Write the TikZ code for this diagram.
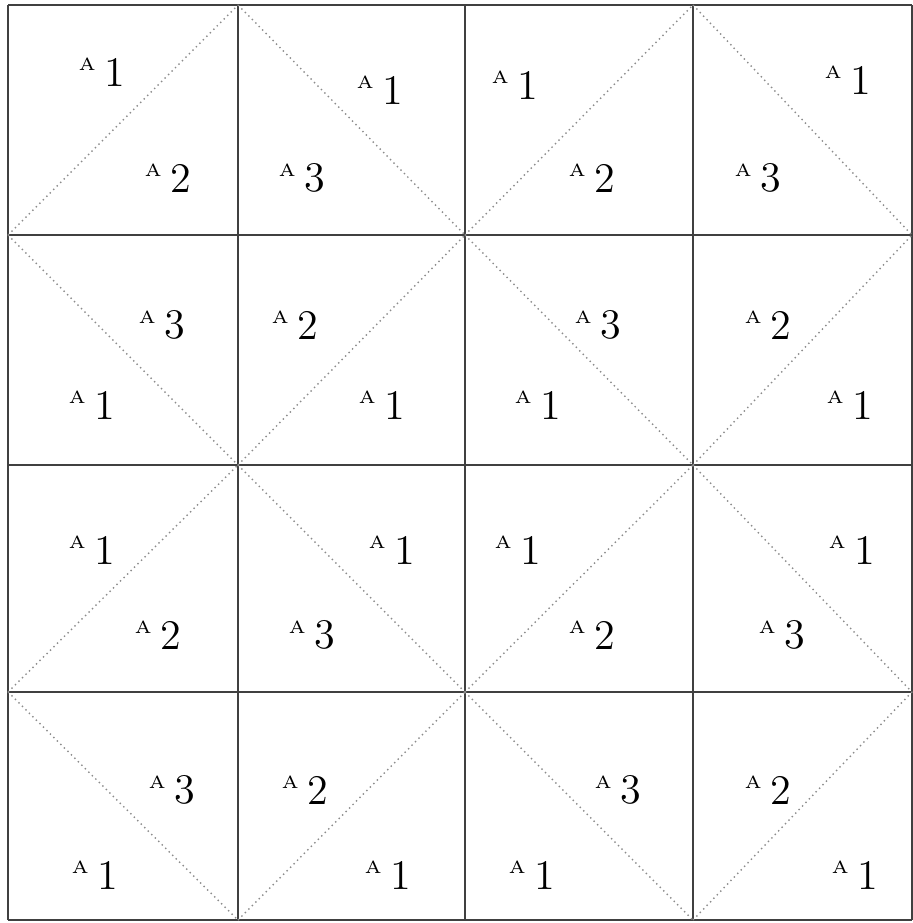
\documentclass[tikz,border=0pt]{standalone}
\usepackage{tikz}
\newcommand{\alab}[1]{\textsuperscript{\tiny A}\,#1}

\begin{document}
\begin{tikzpicture}[
    x=1cm, y=1cm,
    gridline/.style={draw=black!75, line width=0.5pt},
    diagline/.style={draw=black!45, line width=0.4pt, densely dotted},
    lab/.style={font=\large, inner sep=1pt},
  ]
    \useasboundingbox (0,0) rectangle (9.13,-9.23);

    % grid corners
    \foreach \i/\x in {0/0.08,1/2.38,2/4.65,3/6.93,4/9.12}
      \foreach \j/\y in {0/-0.05,1/-2.35,2/-4.65,3/-6.92,4/-9.20}
        \coordinate (p\i\j) at (\x,\y);

    % squares
    \foreach \i in {0,...,4}
      \draw[gridline] (p\i0) -- (p\i4);
    \foreach \j in {0,...,4}
      \draw[gridline] (p0\j) -- (p4\j);

    % diagonals
    \foreach \a/\b in {p01/p10, p10/p21, p21/p30, p30/p41,
                       p01/p12, p12/p21, p21/p32, p32/p41,
                       p03/p12, p12/p23, p23/p32, p32/p43,
                       p03/p14, p14/p23, p23/p34, p34/p43}
      \draw[diagline] (\a) -- (\b);

    % row 1
    \node[lab] (a11) at (1.02,-0.72) {\alab{1}};
    \node[lab] (a12) at (1.68,-1.78) {\alab{2}};
    \node[lab] (a13) at (3.02,-1.78) {\alab{3}};
    \node[lab] (a14) at (3.80,-0.90) {\alab{1}};
    \node[lab] (a15) at (5.15,-0.85) {\alab{1}};
    \node[lab] (a16) at (5.92,-1.78) {\alab{2}};
    \node[lab] (a17) at (7.58,-1.78) {\alab{3}};
    \node[lab] (a18) at (8.48,-0.80) {\alab{1}};

    % row 2
    \node[lab] (a21) at (1.62,-3.25) {\alab{3}};
    \node[lab] (a22) at (0.92,-4.05) {\alab{1}};
    \node[lab] (a23) at (2.95,-3.25) {\alab{2}};
    \node[lab] (a24) at (3.82,-4.05) {\alab{1}};
    \node[lab] (a25) at (5.98,-3.25) {\alab{3}};
    \node[lab] (a26) at (5.38,-4.05) {\alab{1}};
    \node[lab] (a27) at (7.68,-3.25) {\alab{2}};
    \node[lab] (a28) at (8.50,-4.05) {\alab{1}};

    % row 3
    \node[lab] (a31) at (0.92,-5.50) {\alab{1}};
    \node[lab] (a32) at (1.58,-6.35) {\alab{2}};
    \node[lab] (a33) at (3.92,-5.50) {\alab{1}};
    \node[lab] (a34) at (3.12,-6.35) {\alab{3}};
    \node[lab] (a35) at (5.18,-5.50) {\alab{1}};
    \node[lab] (a36) at (5.92,-6.35) {\alab{2}};
    \node[lab] (a37) at (8.52,-5.50) {\alab{1}};
    \node[lab] (a38) at (7.82,-6.35) {\alab{3}};

    % row 4
    \node[lab] (a41) at (1.72,-7.90) {\alab{3}};
    \node[lab] (a42) at (0.95,-8.75) {\alab{1}};
    \node[lab] (a43) at (3.05,-7.90) {\alab{2}};
    \node[lab] (a44) at (3.88,-8.75) {\alab{1}};
    \node[lab] (a45) at (6.18,-7.90) {\alab{3}};
    \node[lab] (a46) at (5.32,-8.75) {\alab{1}};
    \node[lab] (a47) at (7.68,-7.90) {\alab{2}};
    \node[lab] (a48) at (8.55,-8.75) {\alab{1}};
\end{tikzpicture}
\end{document}
